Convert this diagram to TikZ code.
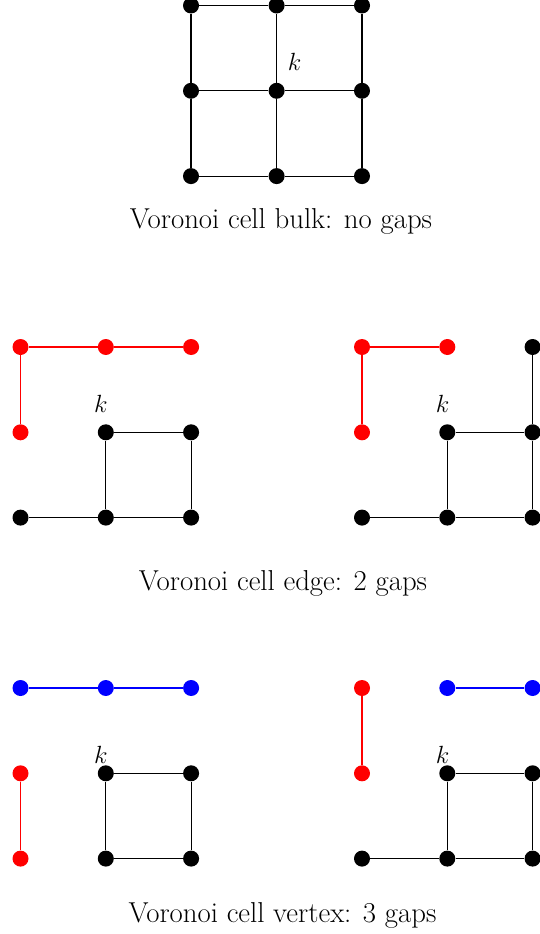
\documentclass[tikz,border=0pt]{standalone}
\begin{document}
\begin{tikzpicture}[x=1pt,y=-1pt,
  dot/.style={circle,fill=#1,inner sep=0pt,minimum size=16pt},
  dot/.default=black,
  lnk/.style={line width=1.1pt,draw=#1},
  lnk/.default=black,
  lbl/.style={font=\fontsize{28.8}{33}\selectfont},
  captxt/.style={font=\fontsize{28.8}{33}\selectfont}]
\useasboundingbox (0,0) rectangle (540,934);
% ---- top: bulk
\node[dot] (t11) at (191,5.5) {};
\node[dot] (t12) at (276.6,5.5) {};
\node[dot] (t13) at (362,5.5) {};
\node[dot] (t21) at (191,90.8) {};
\node[dot] (t22) at (276.6,90.8) {};
\node[dot] (t23) at (362,90.8) {};
\node[dot] (t31) at (191,176.1) {};
\node[dot] (t32) at (276.6,176.1) {};
\node[dot] (t33) at (362,176.1) {};
\draw[lnk] (t11)--(t12) (t12)--(t13) (t21)--(t22) (t22)--(t23) (t31)--(t32) (t32)--(t33)
  (t11)--(t21) (t21)--(t31) (t12)--(t22) (t22)--(t32) (t13)--(t23) (t23)--(t33);
\node[lbl] (tk) at (294.5,62) {$k$};
\node[captxt] (tc) at (281,221) {Voronoi cell bulk: no gaps};
% ---- middle left: edge
\node[dot=red] (a11) at (20.5,347) {};
\node[dot=red] (a12) at (105.8,347) {};
\node[dot=red] (a13) at (191.1,347) {};
\node[dot=red] (a21) at (20.5,432.3) {};
\node[dot] (a22) at (105.8,432.3) {};
\node[dot] (a23) at (191.1,432.3) {};
\node[dot] (a31) at (20.5,517.6) {};
\node[dot] (a32) at (105.8,517.6) {};
\node[dot] (a33) at (191.1,517.6) {};
\draw[lnk=red] (a11)--(a12) (a12)--(a13) (a11)--(a21);
\draw[lnk] (a22)--(a23) (a22)--(a32) (a23)--(a33) (a31)--(a32) (a32)--(a33);
\node[lbl] (ak) at (101,403.5) {$k$};
% ---- middle right: edge
\node[dot=red] (b11) at (362,347) {};
\node[dot=red] (b12) at (447.3,347) {};
\node[dot] (b13) at (532.6,347) {};
\node[dot=red] (b21) at (362,432.3) {};
\node[dot] (b22) at (447.3,432.3) {};
\node[dot] (b23) at (532.6,432.3) {};
\node[dot] (b31) at (362,517.6) {};
\node[dot] (b32) at (447.3,517.6) {};
\node[dot] (b33) at (532.6,517.6) {};
\draw[lnk=red] (b11)--(b12) (b11)--(b21);
\draw[lnk] (b13)--(b23) (b22)--(b23) (b22)--(b32) (b23)--(b33) (b31)--(b32) (b32)--(b33);
\node[lbl] (bk) at (442.5,403.5) {$k$};
\node[captxt] (mc) at (283,583) {Voronoi cell edge: 2 gaps};
% ---- bottom left: vertex
\node[dot=blue] (c11) at (20.5,688) {};
\node[dot=blue] (c12) at (105.8,688) {};
\node[dot=blue] (c13) at (191.1,688) {};
\node[dot=red] (c21) at (20.5,773.3) {};
\node[dot] (c22) at (105.8,773.3) {};
\node[dot] (c23) at (191.1,773.3) {};
\node[dot=red] (c31) at (20.5,858.6) {};
\node[dot] (c32) at (105.8,858.6) {};
\node[dot] (c33) at (191.1,858.6) {};
\draw[lnk=blue] (c11)--(c12) (c12)--(c13);
\draw[lnk=red] (c21)--(c31);
\draw[lnk] (c22)--(c23) (c22)--(c32) (c23)--(c33) (c32)--(c33);
\node[lbl] (ck) at (101,755) {$k$};
% ---- bottom right: vertex
\node[dot=red] (d11) at (362,688) {};
\node[dot=blue] (d12) at (447.3,688) {};
\node[dot=blue] (d13) at (532.6,688) {};
\node[dot=red] (d21) at (362,773.3) {};
\node[dot] (d22) at (447.3,773.3) {};
\node[dot] (d23) at (532.6,773.3) {};
\node[dot] (d31) at (362,858.6) {};
\node[dot] (d32) at (447.3,858.6) {};
\node[dot] (d33) at (532.6,858.6) {};
\draw[lnk=red] (d11)--(d21);
\draw[lnk=blue] (d12)--(d13);
\draw[lnk] (d22)--(d23) (d22)--(d32) (d23)--(d33) (d31)--(d32) (d32)--(d33);
\node[lbl] (dk) at (442.5,755) {$k$};
\node[captxt] (bc) at (282.5,915) {Voronoi cell vertex: 3 gaps};
\end{tikzpicture}
\end{document}
